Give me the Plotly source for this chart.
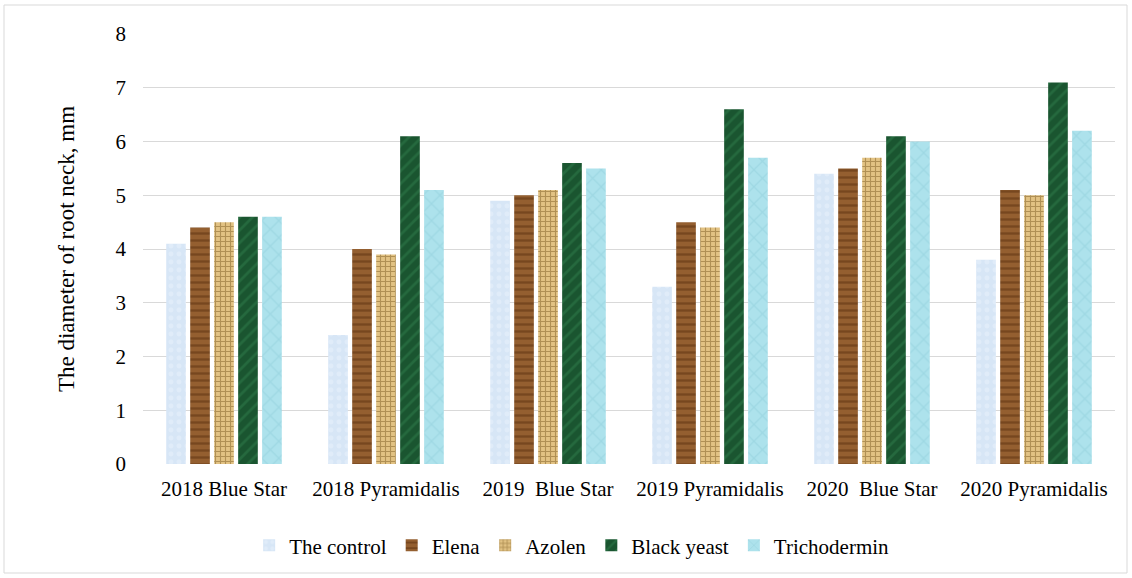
import plotly.graph_objects as go

categories = ["2018 Blue Star", "2018 Pyramidalis", "2019  Blue Star",
              "2019 Pyramidalis", "2020  Blue Star", "2020 Pyramidalis"]
series_names = ["The control", "Elena", "Azolen", "Black yeast", "Trichodermin"]
control = [4.1, 2.4, 4.9, 3.3, 5.4, 3.8]
elena = [4.4, 4.0, 5.0, 4.5, 5.5, 5.1]
azolen = [4.5, 3.9, 5.1, 4.4, 5.7, 5.0]
black_yeast = [4.6, 6.1, 5.6, 6.6, 6.1, 7.1]
trichodermin = [4.6, 5.1, 5.5, 5.7, 6.0, 6.2]
y_ticks = [0, 1, 2, 3, 4, 5, 6, 7, 8]

values = [control, elena, azolen, black_yeast, trichodermin]
styles = [
    dict(bg="#d7e6f6", fg="#e9f2fc", shape=".", size=8, solidity=0.3),
    dict(bg="#945f30", fg="#5a300e", shape="-", size=7, solidity=0.35),
    dict(bg="#e2c283", fg="#7d5d26", shape="+", size=5, solidity=0.4),
    dict(bg="#1a5530", fg="#2f7d4b", shape="/", size=9, solidity=0.3),
    dict(bg="#ade2ec", fg="#90cdda", shape="x", size=12, solidity=0.2),
]

FONT = "Liberation Serif"

fig = go.Figure()
for name, vals, st in zip(series_names, values, styles):
    fig.add_trace(go.Bar(
        name=name, x=categories, y=vals,
        marker=dict(color=st["bg"], line=dict(width=0),
                    pattern=dict(shape=st["shape"], fgcolor=st["fg"], bgcolor=st["bg"],
                                 size=st["size"], solidity=st["solidity"],
                                 fillmode="overlay")),
    ))

W, H = 1132, 578
ml, mr, mt, mb = 143, 17, 34, 114
pw, ph = W - ml - mr, H - mt - mb

fig.update_layout(
    width=W, height=H,
    margin=dict(l=ml, r=mr, t=mt, b=mb),
    paper_bgcolor="white", plot_bgcolor="white",
    barmode="group", bargap=0.26, bargroupgap=0.18,
    font=dict(family=FONT, size=21, color="#000000"),
    showlegend=True,
    legend=dict(orientation="h", x=0.441, xanchor="center", y=-0.19, yanchor="middle",
                font=dict(family=FONT, size=21, color="#000000"), itemwidth=30,
                traceorder="normal"),
    xaxis=dict(showgrid=False, showline=False, zeroline=False, ticks="",
               ticklabelstandoff=10, tickfont=dict(family=FONT, size=21)),
    yaxis=dict(range=[0, 8], tickvals=y_ticks, showgrid=True, gridcolor="#d9d9d9",
               gridwidth=1, zeroline=False, showline=False, ticks="",
               ticklabelstandoff=16, tickfont=dict(family=FONT, size=21),
               title=dict(text="The diameter of root neck, mm",
                          font=dict(family=FONT, size=23), standoff=34)),
    shapes=[dict(type="rect", xref="paper", yref="paper",
                 x0=(4 - ml) / pw, x1=(W - 5 - ml) / pw,
                 y0=-(mb - 5) / ph, y1=1 + (mt - 5) / ph,
                 line=dict(color="#d9d9d9", width=1), fillcolor="rgba(0,0,0,0)", layer="below")],
)

fig.write_html("out.html")
